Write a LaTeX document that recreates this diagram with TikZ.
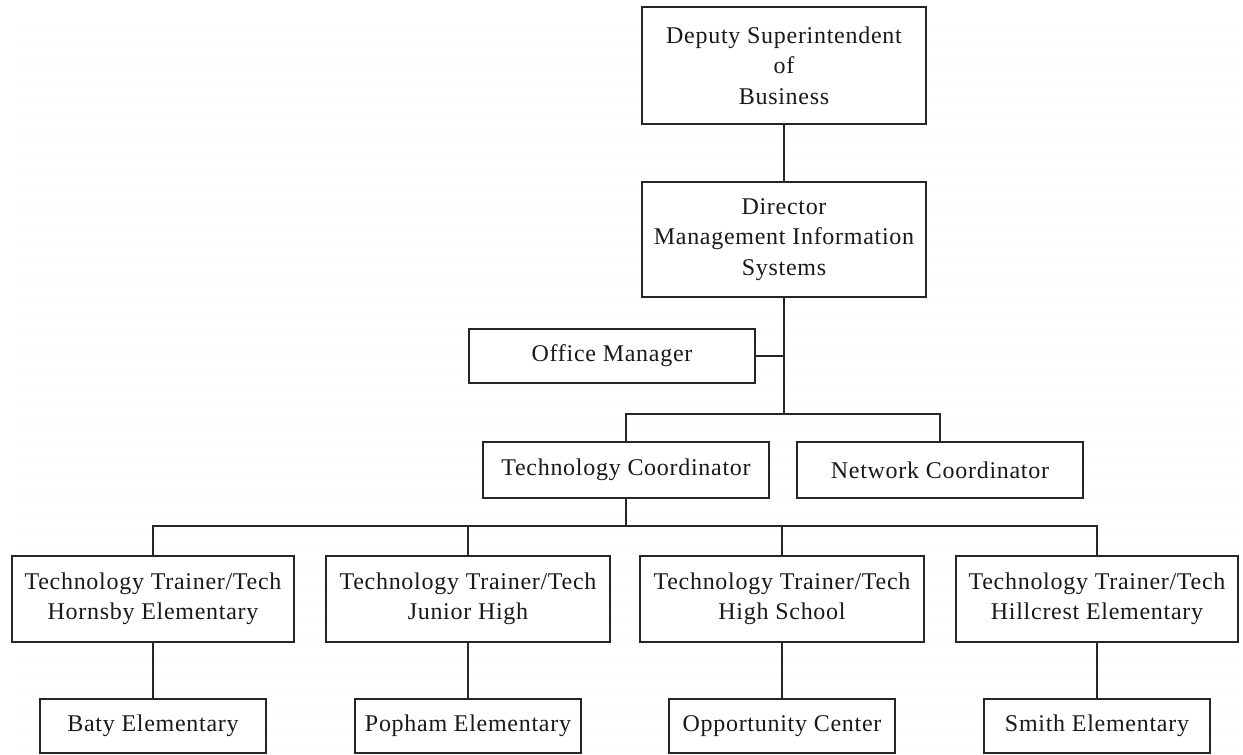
\documentclass[tikz,border=0pt]{standalone}
\usepackage{fontspec}
\setmainfont{Liberation Serif}[LetterSpace=3]
\begin{document}
\begin{tikzpicture}[x=1pt,y=-1pt,
  box/.style={draw=black!85,line width=2pt,fill=white,inner sep=0pt,
    align=center,font=\fontsize{24}{30.5}\selectfont,text=black!90},
  wire/.style={draw=black!85,line width=2pt}]
\useasboundingbox (0,0) rectangle (1243,755);
% faint dotted paper texture
\foreach \yy in {28,46,...,755}
  \draw[pink!35,line width=1.4pt,dash pattern=on 1.4pt off 6.6pt] (20,\yy) -- (1243,\yy);

% top of the chart
\node[box,minimum width=284pt,minimum height=117pt] (dep) at (784,65.5)
  {Deputy Superintendent\\of\\Business};
\node[box,minimum width=284pt,minimum height=115pt] (dir) at (784,239.5)
  {Director\\Management Information\\Systems};
\node[box,minimum width=286pt,minimum height=54pt] (off) at (612,356) {Office Manager};
\node[box,minimum width=286pt,minimum height=56pt] (tc) at (626,470) {Technology Coordinator};
\node[box,minimum width=286pt,minimum height=56pt] (nc) at (940,470) {Network Coordinator};

% trainers
\node[box,minimum width=282pt,minimum height=86pt] (t1) at (153,599)
  {Technology Trainer/Tech\\Hornsby Elementary};
\node[box,minimum width=284pt,minimum height=86pt] (t2) at (468,599)
  {Technology Trainer/Tech\\Junior High};
\node[box,minimum width=284pt,minimum height=86pt] (t3) at (782,599)
  {Technology Trainer/Tech\\High School};
\node[box,minimum width=282pt,minimum height=86pt] (t4) at (1097,599)
  {Technology Trainer/Tech\\Hillcrest Elementary};

% schools
\node[box,minimum width=226pt,minimum height=54pt] (b1) at (153,726) {Baty Elementary};
\node[box,minimum width=226pt,minimum height=54pt] (b2) at (468,726) {Popham Elementary};
\node[box,minimum width=226pt,minimum height=54pt] (b3) at (782,726) {Opportunity Center};
\node[box,minimum width=226pt,minimum height=54pt] (b4) at (1097,726) {Smith Elementary};

% connectors
\coordinate (bar1) at (784,414);
\coordinate (bar2) at (626,526);
\draw[wire] (dep.south) -- (dir.north);
\draw[wire] (dir.south) -- (bar1);
\draw[wire] (off.east) -- (off.east -| bar1);
\draw[wire] (tc.north) |- (bar1) -| (nc.north);
\draw[wire] (tc.south) -- (bar2);
\draw[wire] (t1.north) |- (bar2) -| (t4.north);
\draw[wire] (t2.north) -- (t2.north |- bar2);
\draw[wire] (t3.north) -- (t3.north |- bar2);
\draw[wire] (t1.south) -- (b1.north);
\draw[wire] (t2.south) -- (b2.north);
\draw[wire] (t3.south) -- (b3.north);
\draw[wire] (t4.south) -- (b4.north);
\end{tikzpicture}
\end{document}
